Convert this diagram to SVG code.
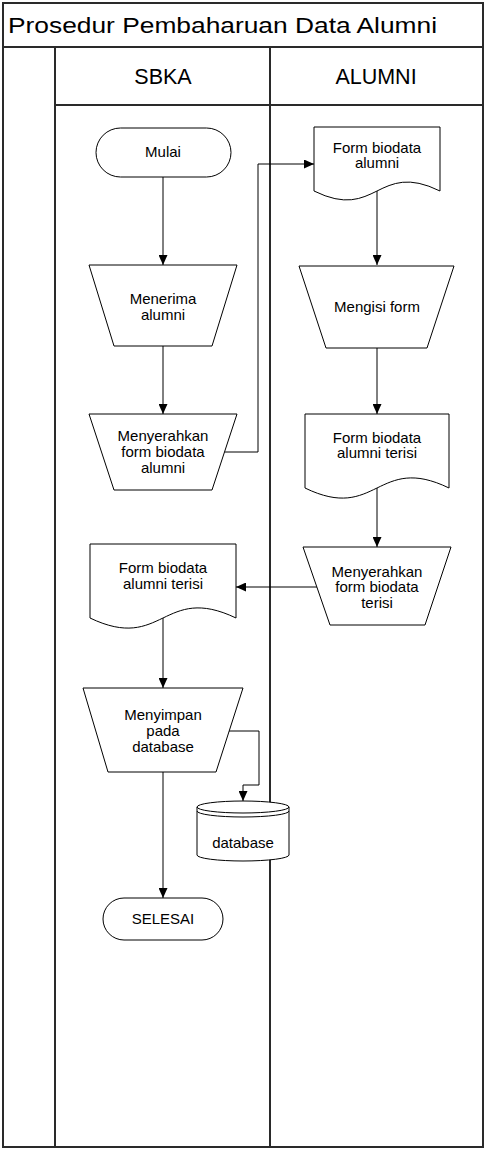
<svg xmlns="http://www.w3.org/2000/svg" width="484" height="1149" viewBox="0 0 484 1149">
<style>
.frame{fill:none;stroke:#2a2a2a;stroke-width:2}
.shape{fill:#fff;stroke:#000;stroke-width:1}
.conn{fill:none;stroke:#000;stroke-width:1}
.t{font-family:"Liberation Sans",Arial,sans-serif;font-size:15px;fill:#000;text-anchor:middle}
.h{font-family:"Liberation Sans",Arial,sans-serif;font-size:21.5px;fill:#000;text-anchor:middle}
.title{font-family:"Liberation Sans",Arial,sans-serif;font-size:22px;fill:#000}
</style>
<defs>
<marker id="arr" markerUnits="userSpaceOnUse" markerWidth="10" markerHeight="9" refX="10" refY="4.5" orient="auto">
<path d="M0,0 L10,4.5 L0,9 Z" fill="#000"/>
</marker>
</defs>
<rect width="484" height="1149" fill="#fff"/>
<g id="pool">
<rect class="frame" x="3" y="3" width="480" height="1144"/>
<line class="frame" x1="3" y1="47" x2="483" y2="47"/>
<line class="frame" x1="55" y1="47" x2="55" y2="1147"/>
<line class="frame" x1="270" y1="47" x2="270" y2="1147"/>
<line class="frame" x1="55" y1="105" x2="483" y2="105"/>
<text class="title" x="8" y="33" textLength="429" lengthAdjust="spacingAndGlyphs">Prosedur Pembaharuan Data Alumni</text>
<text class="h" x="163" y="84">SBKA</text>
<text class="h" x="376" y="84">ALUMNI</text>
</g>
<g id="connectors">
<path class="conn" d="M163,177 V265" marker-end="url(#arr)"/>
<path class="conn" d="M163,346 V414" marker-end="url(#arr)"/>
<path class="conn" d="M224.5,452 H258 V164 H314" marker-end="url(#arr)"/>
<path class="conn" d="M377,191 V265" marker-end="url(#arr)"/>
<path class="conn" d="M377,348 V414" marker-end="url(#arr)"/>
<path class="conn" d="M377,488 V547" marker-end="url(#arr)"/>
<path class="conn" d="M317,587 H236" marker-end="url(#arr)"/>
<path class="conn" d="M163,618 V688" marker-end="url(#arr)"/>
<path class="conn" d="M229,731 H259 V785 H243 V801" marker-end="url(#arr)"/>
<path class="conn" d="M163,772 V898" marker-end="url(#arr)"/>
</g>
<g id="mulai">
<rect class="shape" x="96" y="128" width="135" height="49" rx="24.5"/>
<text class="t" x="163" y="157">Mulai</text>
</g>
<g id="menerima">
<path class="shape" d="M89,265 H237 L212,346 H114 Z"/>
<text class="t" x="163" y="304">Menerima</text>
<text class="t" x="163" y="320">alumni</text>
</g>
<g id="menyerahkan">
<path class="shape" d="M89,414 H237 L212,490 H114 Z"/>
<text class="t" x="163" y="441">Menyerahkan</text>
<text class="t" x="163" y="457">form biodata</text>
<text class="t" x="163" y="473">alumni</text>
</g>
<g id="form-alumni">
<path class="shape" d="M314,127 H440 V191 C377,160 377,222 314,191 Z"/>
<text class="t" x="377" y="153">Form biodata</text>
<text class="t" x="377" y="168">alumni</text>
</g>
<g id="mengisi">
<path class="shape" d="M299,266 H454 L427,348 H326 Z"/>
<text class="t" x="377" y="312">Mengisi form</text>
</g>
<g id="form-terisi-alumni">
<path class="shape" d="M305,414 H449 V488 C377,453 377,523 305,488 Z"/>
<text class="t" x="377" y="443">Form biodata</text>
<text class="t" x="377" y="458">alumni terisi</text>
</g>
<g id="menyerahkan-terisi">
<path class="shape" d="M303,547 H451 L425,625 H330 Z"/>
<text class="t" x="377" y="577">Menyerahkan</text>
<text class="t" x="377" y="592">form biodata</text>
<text class="t" x="377" y="608">terisi</text>
</g>
<g id="form-terisi-sbka">
<path class="shape" d="M90,544 H236 V618 C163,583 163,653 90,618 Z"/>
<text class="t" x="163" y="573">Form biodata</text>
<text class="t" x="163" y="589">alumni terisi</text>
</g>
<g id="menyimpan">
<path class="shape" d="M83,688 H243 L216,772 H108 Z"/>
<text class="t" x="163" y="720">Menyimpan</text>
<text class="t" x="163" y="736">pada</text>
<text class="t" x="163" y="752">database</text>
</g>
<g id="database">
<path class="shape" d="M197,807 V855 A46,6 0 0 0 289,855 V807 A46,6 0 0 0 197,807 Z"/>
<path class="conn" d="M197,807 A46,6 0 0 0 289,807"/>
<path class="conn" d="M197,811 A46,6 0 0 0 289,811"/>
<text class="t" x="243" y="848">database</text>
</g>
<g id="selesai">
<rect class="shape" x="103" y="898" width="120" height="42" rx="21"/>
<text class="t" x="163" y="924">SELESAI</text>
</g>
</svg>
